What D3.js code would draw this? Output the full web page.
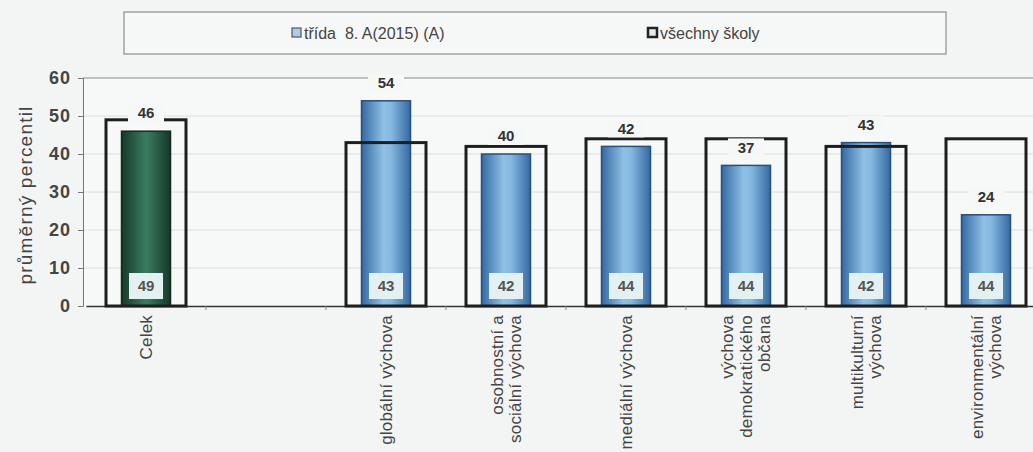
<!DOCTYPE html>
<html><head><meta charset="utf-8">
<script src="https://cdn.jsdelivr.net/npm/d3@7"></script>
<style>
html,body{margin:0;padding:0;background:#f3f4f4;}
svg{display:block;font-family:Arial,"Liberation Sans",sans-serif;}
</style></head>
<body><svg id="c" width="1033" height="452"></svg>
<script>
const categories = ["Celek", "", "globální výchova", "osobnostní a\nsociální výchova", "mediální výchova", "výchova\ndemokratického\nobčana", "multikulturní\nvýchova", "environmentální\nvýchova"];
const classValues = [46, null, 54, 40, 42, 37, 43, 24];
const allSchoolsValues = [49, null, 43, 42, 44, 44, 42, 44];
const yTicks = [0, 10, 20, 30, 40, 50, 60];
const seriesNames = ["třída  8. A(2015) (A)", "všechny školy"];
const yTitle = "průměrný percentil";

const svg = d3.select("#c");
const defs = svg.append("defs");
const gBlue = defs.append("linearGradient").attr("id","gb").attr("x1","0").attr("x2","1").attr("y1","0").attr("y2","0");
[[0,"#3469a3"],[0.45,"#8fc1e6"],[0.6,"#86b9e0"],[1,"#3469a3"]].forEach(s=>gBlue.append("stop").attr("offset",s[0]).attr("stop-color",s[1]));
const gGreen = defs.append("linearGradient").attr("id","gg").attr("x1","0").attr("x2","1").attr("y1","0").attr("y2","0");
[[0,"#16382a"],[0.5,"#3a7d60"],[1,"#16382a"]].forEach(s=>gGreen.append("stop").attr("offset",s[0]).attr("stop-color",s[1]));

const x = d3.scaleBand().domain(categories).range([86, 1046]).padding(0);
const y = d3.scaleLinear().domain([0, 60]).range([306, 78]);
const bw = x.bandwidth();
const boxW = bw * 2/3, barW = 49;

// plot background
svg.append("rect").attr("x",83).attr("y",y(60)).attr("width",1033-83).attr("height",y(0)-y(60)).attr("fill","#f7f8f8");

// gridlines
svg.append("g").selectAll("line").data(yTicks.filter(t=>t>0&&t<60)).join("line")
  .attr("x1",83).attr("x2",1033).attr("y1",d=>y(d)).attr("y2",d=>y(d))
  .attr("stroke","#dcdede").attr("stroke-width",1);
svg.append("line").attr("x1",83).attr("x2",1033).attr("y1",y(60)).attr("y2",y(60)).attr("stroke","#8a8c8c").attr("stroke-width",1.2);

// y axis
const ya = svg.append("g").attr("transform","translate(83,0)")
  .call(d3.axisLeft(y).tickValues(yTicks).tickSize(5).tickPadding(7));
ya.select(".domain").attr("stroke","#777");
ya.selectAll(".tick line").attr("stroke","#777");
ya.selectAll(".tick text").attr("font-size",18).attr("font-weight","bold").attr("fill","#444").attr("letter-spacing",1);

// x axis
const xa = svg.append("g").attr("transform",`translate(0,${y(0)})`)
  .call(d3.axisBottom(x).tickSizeInner(0).tickSizeOuter(0).tickFormat(""));
xa.select(".domain").attr("stroke","#333").attr("stroke-width",1.5);
svg.append("g").selectAll("line").data(categories.slice(1)).join("line")
  .attr("x1",d=>x(d)).attr("x2",d=>x(d)).attr("y1",y(0)).attr("y2",y(0)+4).attr("stroke","#888");

const data = categories.map((c,i)=>({c, v: classValues[i], s: allSchoolsValues[i], i})).filter(d=>d.v!=null);

// bars
svg.append("g").selectAll("rect").data(data).join("rect")
  .attr("x",d=>x(d.c)+bw/2-barW/2).attr("width",barW)
  .attr("y",d=>y(d.v)).attr("height",d=>y(0)-y(d.v))
  .attr("fill",d=>d.i===0?"url(#gg)":"url(#gb)")
  .attr("stroke",d=>d.i===0?"#122a20":"#2a4f78").attr("stroke-width",1.5);

// all-schools outline boxes
svg.append("g").selectAll("rect").data(data).join("rect")
  .attr("x",d=>x(d.c)+bw/2-boxW/2).attr("width",boxW)
  .attr("y",d=>y(d.s)).attr("height",d=>y(0)-y(d.s))
  .attr("fill","none").attr("stroke","#1e1e1e").attr("stroke-width",3);

// top labels (class values)
const tl = svg.append("g").selectAll("g").data(data).join("g")
  .attr("transform",d=>`translate(${x(d.c)+bw/2},${y(d.v)-18})`);
tl.append("rect").attr("x",-18).attr("y",-9).attr("width",36).attr("height",18).attr("fill","#f6f7f7");
tl.append("text").attr("text-anchor","middle").attr("dy","0.35em").attr("font-size",15).attr("font-weight","bold").attr("fill","#333").text(d=>d.v);

// bottom labels (all schools values)
const bl = svg.append("g").selectAll("g").data(data).join("g")
  .attr("transform",d=>`translate(${x(d.c)+bw/2},${y(0)-20})`);
bl.append("rect").attr("x",-17).attr("y",-13).attr("width",34).attr("height",26).attr("fill","#e4f1f2");
bl.append("text").attr("text-anchor","middle").attr("dy","0.35em").attr("font-size",15).attr("font-weight","bold").attr("fill","#555").text(d=>d.s);

// x category labels (rotated)
const xl = svg.append("g").selectAll("text").data(categories.filter(c=>c!=="")).join("text")
  .attr("transform",d=>`translate(${x(d)+bw/2},315) rotate(-90)`)
  .attr("text-anchor","end").attr("font-size",17).attr("letter-spacing",0.2).attr("fill","#444");
xl.each(function(d){
  const lines = d.split("\n"); const n = lines.length; const ls = 18.5;
  d3.select(this).selectAll("tspan").data(lines).join("tspan")
    .attr("x",0).attr("y",(l,k)=>(k-(n-1)/2)*ls).attr("dy","0.35em").text(l=>l);
});

// y title
svg.append("text").attr("transform","translate(32,195) rotate(-90)").attr("text-anchor","middle")
  .attr("font-size",19).attr("letter-spacing",1.2).attr("fill","#444").text(yTitle);

// legend
svg.append("rect").attr("x",124).attr("y",12).attr("width",822).attr("height",42).attr("fill","#f6f7f7").attr("stroke","#8c8e8e").attr("stroke-width",1.2);
const legendX = [292, 648];
const lg = svg.append("g").selectAll("g").data(seriesNames).join("g").attr("transform",(d,i)=>`translate(${legendX[i]},33)`);
lg.append("rect").attr("x",0).attr("y",-5).attr("width",9).attr("height",9)
  .attr("fill",(d,i)=>i===0?"#a8cde8":"#e8eaea").attr("stroke",(d,i)=>i===0?"#555":"#222").attr("stroke-width",(d,i)=>i===0?1.2:2.5);
lg.append("text").attr("x",12).attr("dy","0.35em").attr("font-size",16).attr("fill","#444").style("white-space","pre").text(d=>d);
</script></body></html>
